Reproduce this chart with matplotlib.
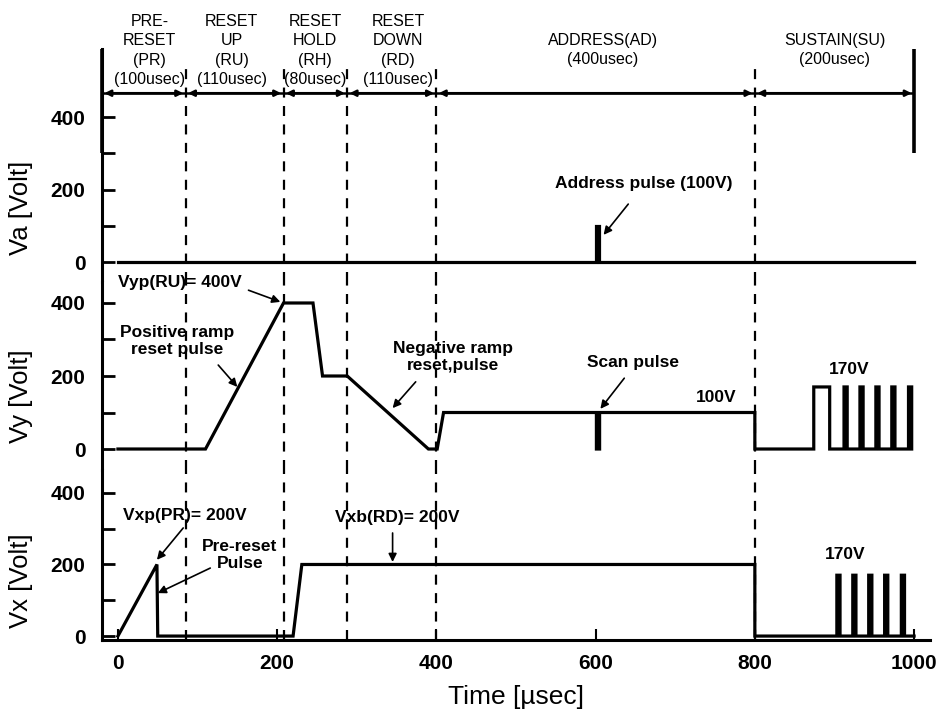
import matplotlib
matplotlib.use('Agg')
import matplotlib.pyplot as plt

plt.rcParams['font.family'] = ['Liberation Sans', 'DejaVu Sans']

# ---- data (time in usec, voltage in V) ----
va_t = [0, 600, 600, 604, 604, 1000]
va_v = [0, 0, 100, 100, 0, 0]

vy_t = [0, 110, 208, 245, 257, 288, 390, 401, 409, 601, 601, 605, 605,
        800, 800, 874, 874, 894, 894, 912, 912, 916, 916, 932, 932, 936, 936,
        952, 952, 956, 956, 972, 972, 976, 976, 993, 993, 997, 997]
vy_v = [0, 0, 400, 400, 200, 200, 0, 0, 100, 100, 0, 0, 100,
        100, 0, 0, 170, 170, 0, 0, 170, 170, 0, 0, 170, 170, 0,
        0, 170, 170, 0, 0, 170, 170, 0, 0, 170, 170, 0]

vx_t = [0, 49, 50, 220, 231, 800, 800, 903, 903, 907, 907, 923, 923, 927, 927,
        943, 943, 947, 947, 963, 963, 967, 967, 984, 984, 988, 988, 1000]
vx_v = [0, 200, 0, 0, 200, 200, 0, 0, 170, 170, 0, 0, 170, 170, 0,
        0, 170, 170, 0, 0, 170, 170, 0, 0, 170, 170, 0, 0]

bounds = [-20, 85, 208, 288, 400, 800, 1000]
phase_x = [40, 143, 248, 352, 609, 900]
phase_txt = ['PRE-\nRESET\n(PR)\n(100usec)', 'RESET\nUP\n(RU)\n(110usec)',
             'RESET\nHOLD\n(RH)\n(80usec)', 'RESET\nDOWN\n(RD)\n(110usec)',
             'ADDRESS(AD)\n(400usec)', 'SUSTAIN(SU)\n(200usec)']
phase_y = [483, 483, 483, 483, 538, 538]

LW = 2.3
fig = plt.figure(figsize=(9.4, 7.13), dpi=100)
gs = fig.add_gridspec(3, 1, left=102/940, right=930/940, top=1-49/713, bottom=1-640/713,
                      height_ratios=[233, 188, 170], hspace=0)
ax1 = fig.add_subplot(gs[0])
ax2 = fig.add_subplot(gs[1], sharex=ax1)
ax3 = fig.add_subplot(gs[2], sharex=ax1)

ax1.plot(va_t, va_v, color='black', lw=LW, solid_joinstyle='miter')
ax2.plot(vy_t, vy_v, color='black', lw=LW, solid_joinstyle='miter')
ax3.plot(vx_t, vx_v, color='black', lw=LW, solid_joinstyle='miter')

ax1.set_xlim(-20, 1020)
ax1.set_ylim(-55, 588)
ax2.set_ylim(-57.5, 457.5)
ax3.set_ylim(-11, 464)

dash = (0, (4.5, 3.8))
for ax, lo, hi in [(ax1, -55, 535), (ax2, -57.5, 457.5), (ax3, -11, 464)]:
    ax.vlines(bounds[1:6], lo, hi, colors='black', lw=1.6, linestyles=dash, clip_on=False)
    for s in ['top', 'right', 'bottom']:
        ax.spines[s].set_visible(False)
    ax.spines['left'].set_linewidth(2.2)
    ax.set_yticks([0, 100, 200, 300, 400])
    ax.set_yticklabels(['0', '', '200', '', '400'])
    ax.tick_params(axis='y', direction='in', length=9, width=2, pad=12,
                   labelsize=15)
    for lab in ax.get_yticklabels():
        lab.set_fontweight('bold')
    ax.tick_params(axis='x', bottom=False, labelbottom=False)

ax3.spines['bottom'].set_visible(True)
ax3.spines['bottom'].set_linewidth(2.2)
ax3.set_xticks([0, 200, 400, 600, 800, 1000])
ax3.tick_params(axis='x', bottom=True, labelbottom=True, direction='in', length=8,
                width=1.5, pad=10, labelsize=15)
for lab in ax3.get_xticklabels():
    lab.set_fontweight('bold')
ax3.set_xlabel('Time [\u00b5sec]', fontsize=19, labelpad=9)

ax1.set_ylabel('Va [Volt]', fontsize=18.5)
ax2.set_ylabel('Vy [Volt]', fontsize=18.5)
ax3.set_ylabel('Vx [Volt]', fontsize=18.5)
ax1.yaxis.set_label_coords(-0.083, 0.32)
ax2.yaxis.set_label_coords(-0.083, 0.39)
ax3.yaxis.set_label_coords(-0.083, 0.35)

# frame markers
ax1.vlines([-20, 1000], 300, 588, colors='black', lw=2.6, clip_on=False)

# phase arrows
ya = 466
ax1.hlines(ya, -20, 1000, colors='black', lw=1.8)
for a, b in zip(bounds[:-1], bounds[1:]):
    ax1.annotate('', xy=(b - 3, ya), xytext=(a + 3, ya),
                 arrowprops=dict(arrowstyle='<|-|>', color='black', lw=1.8,
                                 mutation_scale=9, shrinkA=0, shrinkB=0))
for x, y, t in zip(phase_x, phase_y, phase_txt):
    ax1.text(x, y, t, ha='center', va='bottom', fontsize=11.5, linespacing=1.37,
             clip_on=False)

akw = dict(arrowstyle='-|>', color='black', lw=1.2, mutation_scale=12,
           shrinkA=0, shrinkB=0)
tkw = dict(fontsize=12.5, fontweight='bold', ha='center', va='center')

ax1.text(660, 218, 'Address pulse (100V)', **tkw)
ax1.annotate('', xy=(610, 75), xytext=(641, 160), arrowprops=akw)

ax2.text(78, 457, 'Vyp(RU)= 400V', clip_on=False, **tkw)
ax2.annotate('', xy=(204, 403), xytext=(164, 435), arrowprops=akw, annotation_clip=False)
ax2.text(74, 296, 'Positive ramp\nreset pulse', linespacing=1.15, **tkw)
ax2.annotate('', xy=(150, 170), xytext=(126, 230), arrowprops=akw)
ax2.text(421, 251, 'Negative ramp\nreset,pulse', linespacing=1.15, **tkw)
ax2.annotate('', xy=(345, 112), xytext=(374, 184), arrowprops=akw)
ax2.text(647, 238, 'Scan pulse', **tkw)
ax2.annotate('', xy=(606, 110), xytext=(636, 194), arrowprops=akw)
ax2.text(751, 142, '100V', **tkw)
ax2.text(918, 219, '170V', **tkw)

ax3.text(84, 338, 'Vxp(PR)= 200V', **tkw)
ax3.annotate('', xy=(49, 213), xytext=(82, 302), arrowprops=akw)
ax3.text(153, 227, 'Pre-reset\nPulse', linespacing=1.15, **tkw)
ax3.annotate('', xy=(50, 120), xytext=(116, 190), arrowprops=akw)
ax3.text(351, 330, 'Vxb(RD)= 200V', **tkw)
ax3.annotate('', xy=(345, 207), xytext=(345, 288), arrowprops=akw)
ax3.text(914, 227, '170V', **tkw)

fig.savefig('out.png', dpi=100)
